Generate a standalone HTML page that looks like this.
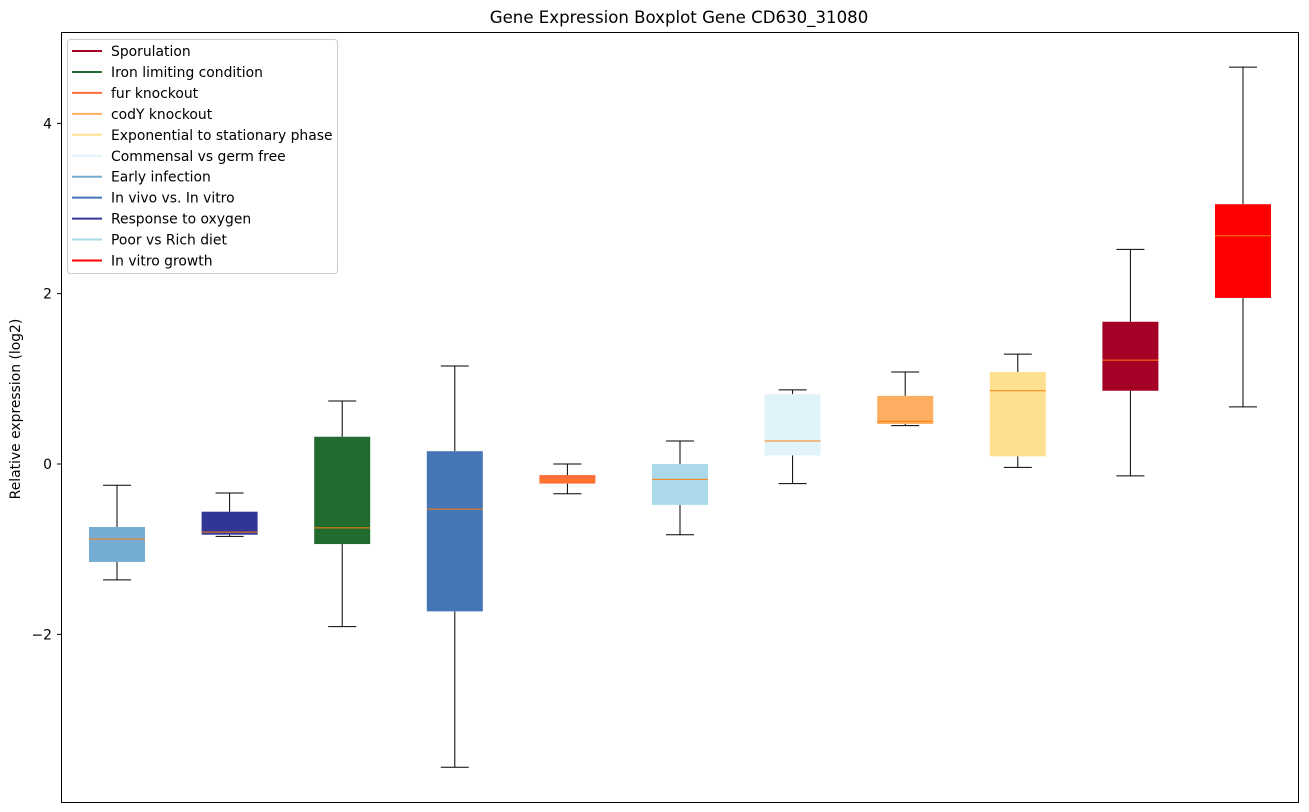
<!DOCTYPE html>
<html><head><meta charset="utf-8"><style>
body{margin:0;background:#fff;font-family:"Liberation Sans","DejaVu Sans",sans-serif;}
svg{display:block}
</style></head><body>
<svg id="chart" width="1309" height="812" xmlns="http://www.w3.org/2000/svg" font-family="DejaVu Sans, Liberation Sans, sans-serif">
<text x="679" y="23" text-anchor="middle" font-size="16.6">Gene Expression Boxplot Gene CD630_31080</text>
<text transform="translate(20,409) rotate(-90)" text-anchor="middle" font-size="13.9">Relative expression (log2)</text>
<g id="plot"></g>
<rect x="61.5" y="32.5" width="1237" height="770" fill="none" stroke="#000" stroke-width="1"/>
<g id="legend"></g>
</svg>
<script>
const groups=["Early infection","Response to oxygen","Iron limiting condition","In vivo vs. In vitro","fur knockout","Poor vs Rich diet","Commensal vs germ free","codY knockout","Exponential to stationary phase","Sporulation","In vitro growth"];
const colors=["#74add1","#313695","#226b2e","#4575b4","#fd6f3a","#abd9e9","#e0f3f8","#fdae61","#fee090","#a50026","#ff0000"];
const whiskerHigh=[-0.25,-0.34,0.74,1.15,0.0,0.27,0.87,1.08,1.29,2.52,4.66];
const q3=[-0.74,-0.56,0.32,0.15,-0.13,0.0,0.82,0.80,1.08,1.67,3.05];
const median=[-0.88,-0.80,-0.75,-0.53,-0.19,-0.18,0.27,0.50,0.86,1.22,2.68];
const q1=[-1.15,-0.83,-0.94,-1.73,-0.23,-0.48,0.10,0.47,0.09,0.86,1.95];
const whiskerLow=[-1.36,-0.85,-1.91,-3.56,-0.35,-0.83,-0.23,0.45,-0.04,-0.14,0.67];
const yTicks=[-2,0,2,4];
const yTickLabels=["\u22122","0","2","4"];
const legendLabels=["Sporulation","Iron limiting condition","fur knockout","codY knockout","Exponential to stationary phase","Commensal vs germ free","Early infection","In vivo vs. In vitro","Response to oxygen","Poor vs Rich diet","In vitro growth"];
const legendColors=["#a50026","#226b2e","#fd6f3a","#fdae61","#fee090","#e0f3f8","#74add1","#4575b4","#313695","#abd9e9","#ff0000"];

const NS="http://www.w3.org/2000/svg";
function y(v){return 464-v*85.17;}
function x(i){return 117+i*112.6;}
function mk(tag,attrs,parent){const e=document.createElementNS(NS,tag);for(const k in attrs)e.setAttribute(k,attrs[k]);parent.appendChild(e);return e;}
const plot=document.getElementById('plot');
const svg=document.getElementById('chart');
yTicks.forEach((t,i)=>{
  const l=mk('line',{x1:57,x2:61,y1:y(t),y2:y(t),stroke:'#000'},svg);
  
  
  const tx=mk('text',{x:52,y:y(t)+5,'text-anchor':'end','font-size':'13.9'},svg);
  
  
  tx.textContent=yTickLabels[i];
});
const hw=28, cw=14;
groups.forEach((g,i)=>{
  const cx=x(i);
  const grp=mk('g',{},plot);
  
  
  mk('line',{x1:cx,x2:cx,y1:y(whiskerHigh[i]),y2:y(q3[i]),stroke:'#000'},grp);
  mk('line',{x1:cx,x2:cx,y1:y(q1[i]),y2:y(whiskerLow[i]),stroke:'#000'},grp);
  mk('line',{x1:cx-cw,x2:cx+cw,y1:y(whiskerHigh[i]),y2:y(whiskerHigh[i]),stroke:'#000'},grp);
  mk('line',{x1:cx-cw,x2:cx+cw,y1:y(whiskerLow[i]),y2:y(whiskerLow[i]),stroke:'#000'},grp);
  mk('rect',{x:cx-hw,y:y(q3[i]),width:hw*2,height:Math.max(1,y(q1[i])-y(q3[i])),fill:colors[i]},grp);
  mk('line',{x1:cx-hw,x2:cx+hw,y1:y(median[i]),y2:y(median[i]),stroke:'#ff7f0e','stroke-width':1},grp);
});
const lg=document.getElementById('legend');
const box=mk('rect',{x:67.5,y:39.5,width:270,height:234,rx:3,fill:'#fff','fill-opacity':0.85,stroke:'#ccc'},lg);


legendLabels.forEach((lab,i)=>{
  const yy=51+i*20.95;
  const e=mk('g',{},lg);
  
  
  mk('line',{x1:72,x2:102,y1:yy,y2:yy,stroke:legendColors[i],'stroke-width':2},e);
  const t=mk('text',{x:111,y:yy+5,'font-size':'13.9'},e);
  t.textContent=lab;
});
</script>
</body></html>
